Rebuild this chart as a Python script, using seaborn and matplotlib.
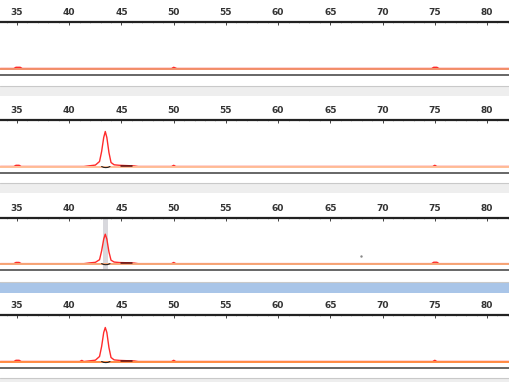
import matplotlib
matplotlib.use('Agg')
import matplotlib.pyplot as plt
from matplotlib.patches import Rectangle
import seaborn as sns

# ==========================
# data
# ==========================
x_lim = (33.37, 82.2)
major_ticks = [35, 40, 45, 50, 55, 60, 65, 70, 75, 80]

# red traces (size on x, signal on y), one list pair per lane
lane1_x = [33.4, 34.7, 34.9, 35.3, 35.5, 49.8, 50.0, 50.3, 74.7, 74.9, 75.2, 75.4, 82.2]
lane1_y = [0, 0, 1.2, 1.2, 0, 0, 1.2, 0, 0, 1.2, 1.2, 0, 0]

lane2_x = [33.4, 34.7, 34.9, 35.2, 35.4, 41.4, 42.0, 42.5, 42.9, 43.1, 43.3, 43.45,
           43.6, 43.8, 44.0, 44.3, 44.8, 45.5, 46.2, 46.6, 49.8, 50.0, 50.2, 74.8, 75.0, 75.2, 82.2]
lane2_y = [0, 0, 1.2, 1.2, 0, 0, 0.8, 1.4, 5, 15, 29, 35,
           29, 14, 4, 1.7, 1.2, 0.9, 0.6, 0, 0, 1.2, 0, 0, 1.2, 0, 0]

lane3_x = [33.4, 34.7, 34.9, 35.2, 35.4, 41.4, 42.0, 42.5, 42.9, 43.1, 43.3, 43.45,
           43.6, 43.8, 44.0, 44.3, 44.8, 45.5, 46.2, 46.6, 49.8, 50.0, 50.2, 74.7, 74.9, 75.2, 75.4, 82.2]
lane3_y = [0, 0, 1.2, 1.2, 0, 0, 0.8, 1.3, 4, 13, 25, 30,
           25, 12, 3.5, 1.6, 1.1, 0.9, 0.6, 0, 0, 1.2, 0, 0, 1.4, 1.4, 0, 0]

lane4_x = [33.4, 34.7, 34.9, 35.2, 35.4, 41.0, 41.2, 41.4, 42.0, 42.5, 42.9, 43.1, 43.3, 43.45,
           43.6, 43.8, 44.0, 44.3, 44.8, 45.5, 46.2, 46.6, 49.8, 50.0, 50.2, 74.8, 75.0, 75.2, 82.2]
lane4_y = [0, 0, 1.2, 1.2, 0, 0, 1.1, 0, 0.7, 1.3, 5, 15, 29, 34,
           29, 14, 4, 1.6, 1.1, 0.8, 0.6, 0, 0, 1.2, 0, 0, 1.2, 0, 0]

# dark traces just under the main peak
dark_x = [43.1, 43.3, 43.5, 43.7, 43.9]
dark_y = [0, -0.9, -1.1, -0.9, 0]
dark_tail_x = [45.0, 46.0]
dark_tail_y = [0.4, 0.4]

baseline_colors = ['#f2906a', '#ffbf98', '#f6a677', '#ff8d45']
highlight_span = (43.25, 43.75)
stray_x = [67.9]
stray_y = [8]

lanes = [(lane1_x, lane1_y, False), (lane2_x, lane2_y, True),
         (lane3_x, lane3_y, True), (lane4_x, lane4_y, True)]

# ==========================
# layout (pixel rows of the 510x382 picture)
# ==========================
W, H = 510, 382
panel_rows = [(22, 75), (120, 173), (218, 270), (315, 368)]
bands = [(86, 96, '#eeeeee'), (183, 193, '#eeeeee'), (282, 293, '#a9c5e8'), (378, 382, '#eeeeee')]

sns.set_style('white')
plt.rcParams['font.family'] = ['DejaVu Sans']

fig = plt.figure(figsize=(W / 100, H / 100), dpi=100)

for top, bot, col in bands:
    fig.patches.append(Rectangle((0, 1 - bot / H), 1, (bot - top) / H,
                                 transform=fig.transFigure, facecolor=col,
                                 edgecolor='none', zorder=0))
    fig.add_artist(plt.Line2D([0, 1], [1 - top / H, 1 - top / H], transform=fig.transFigure,
                              color='#c9c9c9', lw=0.8))

for i, ((top, bot), (lx, ly, has_dark)) in enumerate(zip(panel_rows, lanes)):
    ax = fig.add_axes([0, 1 - bot / H, 1, (bot - top) / H])
    ax.set_facecolor('white')

    if i == 2:
        ax.axvspan(*highlight_span, color='#d8d8dd', lw=0, zorder=0)

    sns.lineplot(x=lx, y=ly, ax=ax, color='#ff2b2b', lw=1.0, estimator=None, sort=False, zorder=2)
    # orange baseline painted over the flat parts of the red trace
    ax.axhline(0, color=baseline_colors[i], lw=1.4, zorder=3)

    if has_dark:
        sns.lineplot(x=dark_x, y=dark_y, ax=ax, color='#222222', lw=0.8, estimator=None, zorder=4)
        sns.lineplot(x=dark_tail_x, y=dark_tail_y, ax=ax, color='#5a1010', lw=1.1, estimator=None, zorder=4)

    if i == 2:
        sns.scatterplot(x=stray_x, y=stray_y, ax=ax, color='#888888', s=3, linewidth=0, zorder=4)

    ax.set_xlim(*x_lim)
    ax.set_ylim(-6.5, 46.5)
    ax.set_yticks([])
    ax.set_xticks(major_ticks)
    ax.set_xticks(range(34, 83), minor=True)
    ax.xaxis.tick_top()
    ax.tick_params(axis='x', which='major', direction='in', length=2, width=0.7,
                   colors='#444444', labelsize=6.5, pad=3.5)
    ax.tick_params(axis='x', which='minor', direction='in', length=1, width=0.5, colors='#b0b0b0')
    for lab in ax.get_xticklabels():
        lab.set_fontweight('bold')
        lab.set_color('#333333')
    ax.set_xlabel('')
    ax.set_ylabel('')

    ax.spines['left'].set_visible(False)
    ax.spines['right'].set_visible(False)
    ax.spines['top'].set_color('#222222')
    ax.spines['top'].set_linewidth(1.6)
    ax.spines['bottom'].set_color('#666666')
    ax.spines['bottom'].set_linewidth(1.4)

fig.savefig('out.png', dpi=100)
